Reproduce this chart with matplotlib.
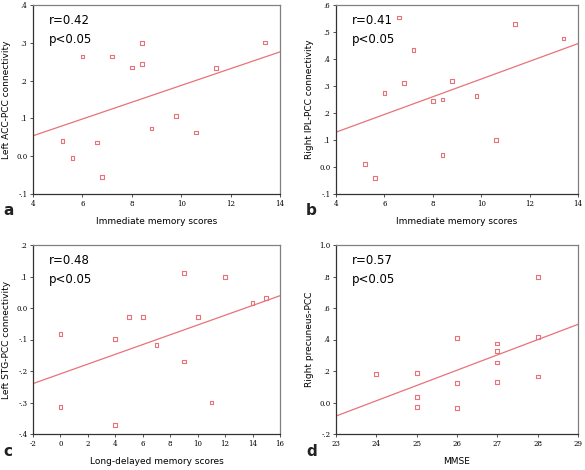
import matplotlib.pyplot as plt
import numpy as np

# panel a: immediate memory vs left ACC-PCC
imm_a = [5.2, 5.6, 6.0, 6.6, 6.8, 7.2, 8.0, 8.4, 8.4, 8.8, 9.8, 10.6, 11.4, 13.4]
acc_pcc = [0.040, -0.004, 0.264, 0.036, -0.055, 0.264, 0.235, 0.299, 0.244, 0.073, 0.106, 0.063, 0.233, 0.301]

# panel b: immediate memory vs right IPL-PCC
imm_b = [5.2, 5.6, 6.0, 6.6, 6.8, 7.2, 8.0, 8.4, 8.4, 8.8, 9.8, 10.6, 11.4, 13.4]
ipl_pcc = [0.011, -0.040, 0.273, 0.554, 0.310, 0.434, 0.245, 0.250, 0.044, 0.318, 0.264, 0.101, 0.530, 0.476]

# panel c: long-delayed memory vs left STG-PCC
delayed = [0, 0, 4, 4, 5, 6, 7, 9, 9, 10, 11, 12, 14, 15]
stg_pcc = [-0.083, -0.315, -0.099, -0.372, -0.028, -0.028, -0.117, 0.111, -0.170, -0.029, -0.300, 0.098, 0.015, 0.032]

# panel d: MMSE vs right precuneus-PCC
mmse = [24, 25, 25, 25, 26, 26, 26, 27, 27, 27, 27, 28, 28, 28]
prec_pcc = [0.181, 0.189, 0.037, -0.029, 0.410, 0.122, -0.033, 0.374, 0.327, 0.253, 0.132, 0.797, 0.414, 0.166]

# fit lines (y at left and right x limit)
fit_a = [0.054, 0.276]
fit_b = [0.129, 0.457]
fit_c = [-0.240, 0.039]
fit_d = [-0.086, 0.496]

r_texts = ['r=0.42', 'r=0.41', 'r=0.48', 'r=0.57']
ylabels = ['Left ACC-PCC connectivity', 'Right IPL-PCC connectivity',
           'Left STG-PCC connectivity', 'Right precuneus-PCC']
xlabels = ['Immediate memory scores', 'Immediate memory scores',
           'Long-delayed memory scores', 'MMSE']
letters = ['a', 'b', 'c', 'd']

xlims = [(4, 14), (4, 14), (-2, 16), (23, 29)]
ylims = [(-0.1, 0.4), (-0.1, 0.6), (-0.4, 0.2), (-0.2, 1.0)]
xticks = [[4, 6, 8, 10, 12, 14], [4, 6, 8, 10, 12, 14],
          [-2, 0, 2, 4, 6, 8, 10, 12, 14, 16], [23, 24, 25, 26, 27, 28, 29]]
yticks = [[-0.1, 0.0, 0.1, 0.2, 0.3, 0.4],
          [-0.1, 0.0, 0.1, 0.2, 0.3, 0.4, 0.5, 0.6],
          [-0.4, -0.3, -0.2, -0.1, 0.0, 0.1, 0.2],
          [-0.2, 0.0, 0.2, 0.4, 0.6, 0.8, 1.0]]

xs = [imm_a, imm_b, delayed, mmse]
ys = [acc_pcc, ipl_pcc, stg_pcc, prec_pcc]
fits = [fit_a, fit_b, fit_c, fit_d]


def spss_fmt(v):
    # SPSS style: ".3", "-.1", "0.0", "1.0"
    if abs(v) < 1e-9:
        return '0.0'
    if abs(v - 1.0) < 1e-9:
        return '1.0'
    s = '%.1f' % v
    return s.replace('0.', '.')


W, H = 585, 470
fig = plt.figure(figsize=(5.85, 4.7), dpi=100)
# axes boxes in pixels: left, top, right, bottom
boxes = [(33, 5, 280, 194), (336, 5, 578, 194),
         (33, 245, 280, 434), (336, 245, 578, 434)]

red = '#e8727a'
grey = '#808080'

for i in range(4):
    l, t, r, b = boxes[i]
    ax = fig.add_axes([l / W, 1 - b / H, (r - l) / W, (b - t) / H])
    ax.scatter(xs[i], ys[i], marker='s', s=7, facecolors='none',
               edgecolors=red, linewidths=0.8, zorder=3)
    ax.plot(xlims[i], fits[i], color=red, lw=0.9)
    ax.set_xlim(xlims[i])
    ax.set_ylim(ylims[i])
    ax.set_xticks(xticks[i])
    ax.set_xticklabels([str(v) for v in xticks[i]], family='DejaVu Serif', fontsize=5)
    ax.set_yticks(yticks[i])
    ax.set_yticklabels([spss_fmt(v) for v in yticks[i]], family='DejaVu Serif', fontsize=5)
    ax.tick_params(length=2.5, width=0.6, color='#333333', pad=1.5)
    for sp in ax.spines.values():
        sp.set_color(grey)
        sp.set_linewidth(0.9)
    ax.spines['left'].set_color('#333333')
    ax.spines['bottom'].set_color('#333333')
    ax.set_ylabel(ylabels[i], fontsize=6.5, labelpad=4)
    ax.set_xlabel(xlabels[i], fontsize=6.5, labelpad=7)
    ax.text(0.065, 0.92, r_texts[i], transform=ax.transAxes, fontsize=8.5,
            va='center', ha='left')
    ax.text(0.065, 0.82, 'p<0.05', transform=ax.transAxes, fontsize=8.5,
            va='center', ha='left')
    fig.text((l - 30) / W, 1 - (b + 17) / H, letters[i], fontsize=11,
             fontweight='bold', color='#222222', va='center', ha='left')

fig.savefig('out.png', dpi=100)
